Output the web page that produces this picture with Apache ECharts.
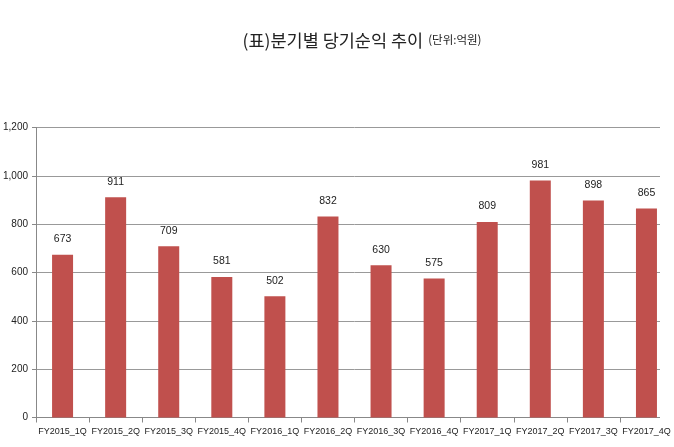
<!DOCTYPE html>
<html><head><meta charset="utf-8">
<script src="https://cdn.jsdelivr.net/npm/echarts@6/dist/echarts.min.js"></script>
<style>html,body{margin:0;padding:0;background:#fff}#c{width:674px;height:447px}</style>
</head><body><div id="c"></div>
<script>
const categories = ['FY2015_1Q','FY2015_2Q','FY2015_3Q','FY2015_4Q','FY2016_1Q','FY2016_2Q','FY2016_3Q','FY2016_4Q','FY2017_1Q','FY2017_2Q','FY2017_3Q','FY2017_4Q'];
const netIncome = [673, 911, 709, 581, 502, 832, 630, 575, 809, 981, 898, 865];
const titleMain = '(표)분기별 당기순익 추이';
const titleUnit = '(단위:억원)';

const chart = echarts.init(document.getElementById('c'), null, {renderer: 'canvas'});
chart.setOption({
  animation: false,
  backgroundColor: '#fff',
  title: {
    text: '{m|' + titleMain + '} {u|' + titleUnit + '}',
    left: 357, top: 26, textAlign: 'center',
    textStyle: {
      fontWeight: 'normal',
      rich: {
        m: {fontFamily: 'Noto Sans CJK KR', fontSize: 17.5, fontWeight: 'normal', color: '#222'},
        u: {fontFamily: 'Noto Sans CJK KR', fontSize: 11.5, fontWeight: 'normal', color: '#222'}
      }
    }
  },
  grid: {left: 35, top: 127.5, width: 638, height: 290},
  xAxis: {
    type: 'category', data: categories,
    axisLine: {lineStyle: {color: '#888', width: 1}},
    axisTick: {show: true, alignWithLabel: false, length: 5, lineStyle: {color: '#888'}},
    axisLabel: {interval: 0, margin: 10, fontFamily: 'Liberation Sans', fontSize: 9, color: '#222'}
  },
  yAxis: {
    type: 'value', min: 0, max: 1200, interval: 200,
    axisLine: {show: true, lineStyle: {color: '#888'}},
    axisTick: {show: true, length: 4, lineStyle: {color: '#888'}},
    splitLine: {lineStyle: {color: '#999', width: 1}},
    axisLabel: {margin: 8, fontFamily: 'Liberation Sans', fontSize: 10, color: '#222',
      formatter: v => v.toLocaleString('en-US')}
  },
  series: [{
    type: 'bar', data: netIncome, barWidth: 21,
    itemStyle: {color: '#c0504d'},
    label: {show: true, position: 'top', distance: 10, fontFamily: 'Liberation Sans', fontSize: 10.5, color: '#222'}
  }],
  graphic: [{
    type: 'rect', shape: {x: 660, y: 120, width: 14, height: 304},
    style: {fill: '#fff'}, z: 1
  }]
});
</script></body></html>
